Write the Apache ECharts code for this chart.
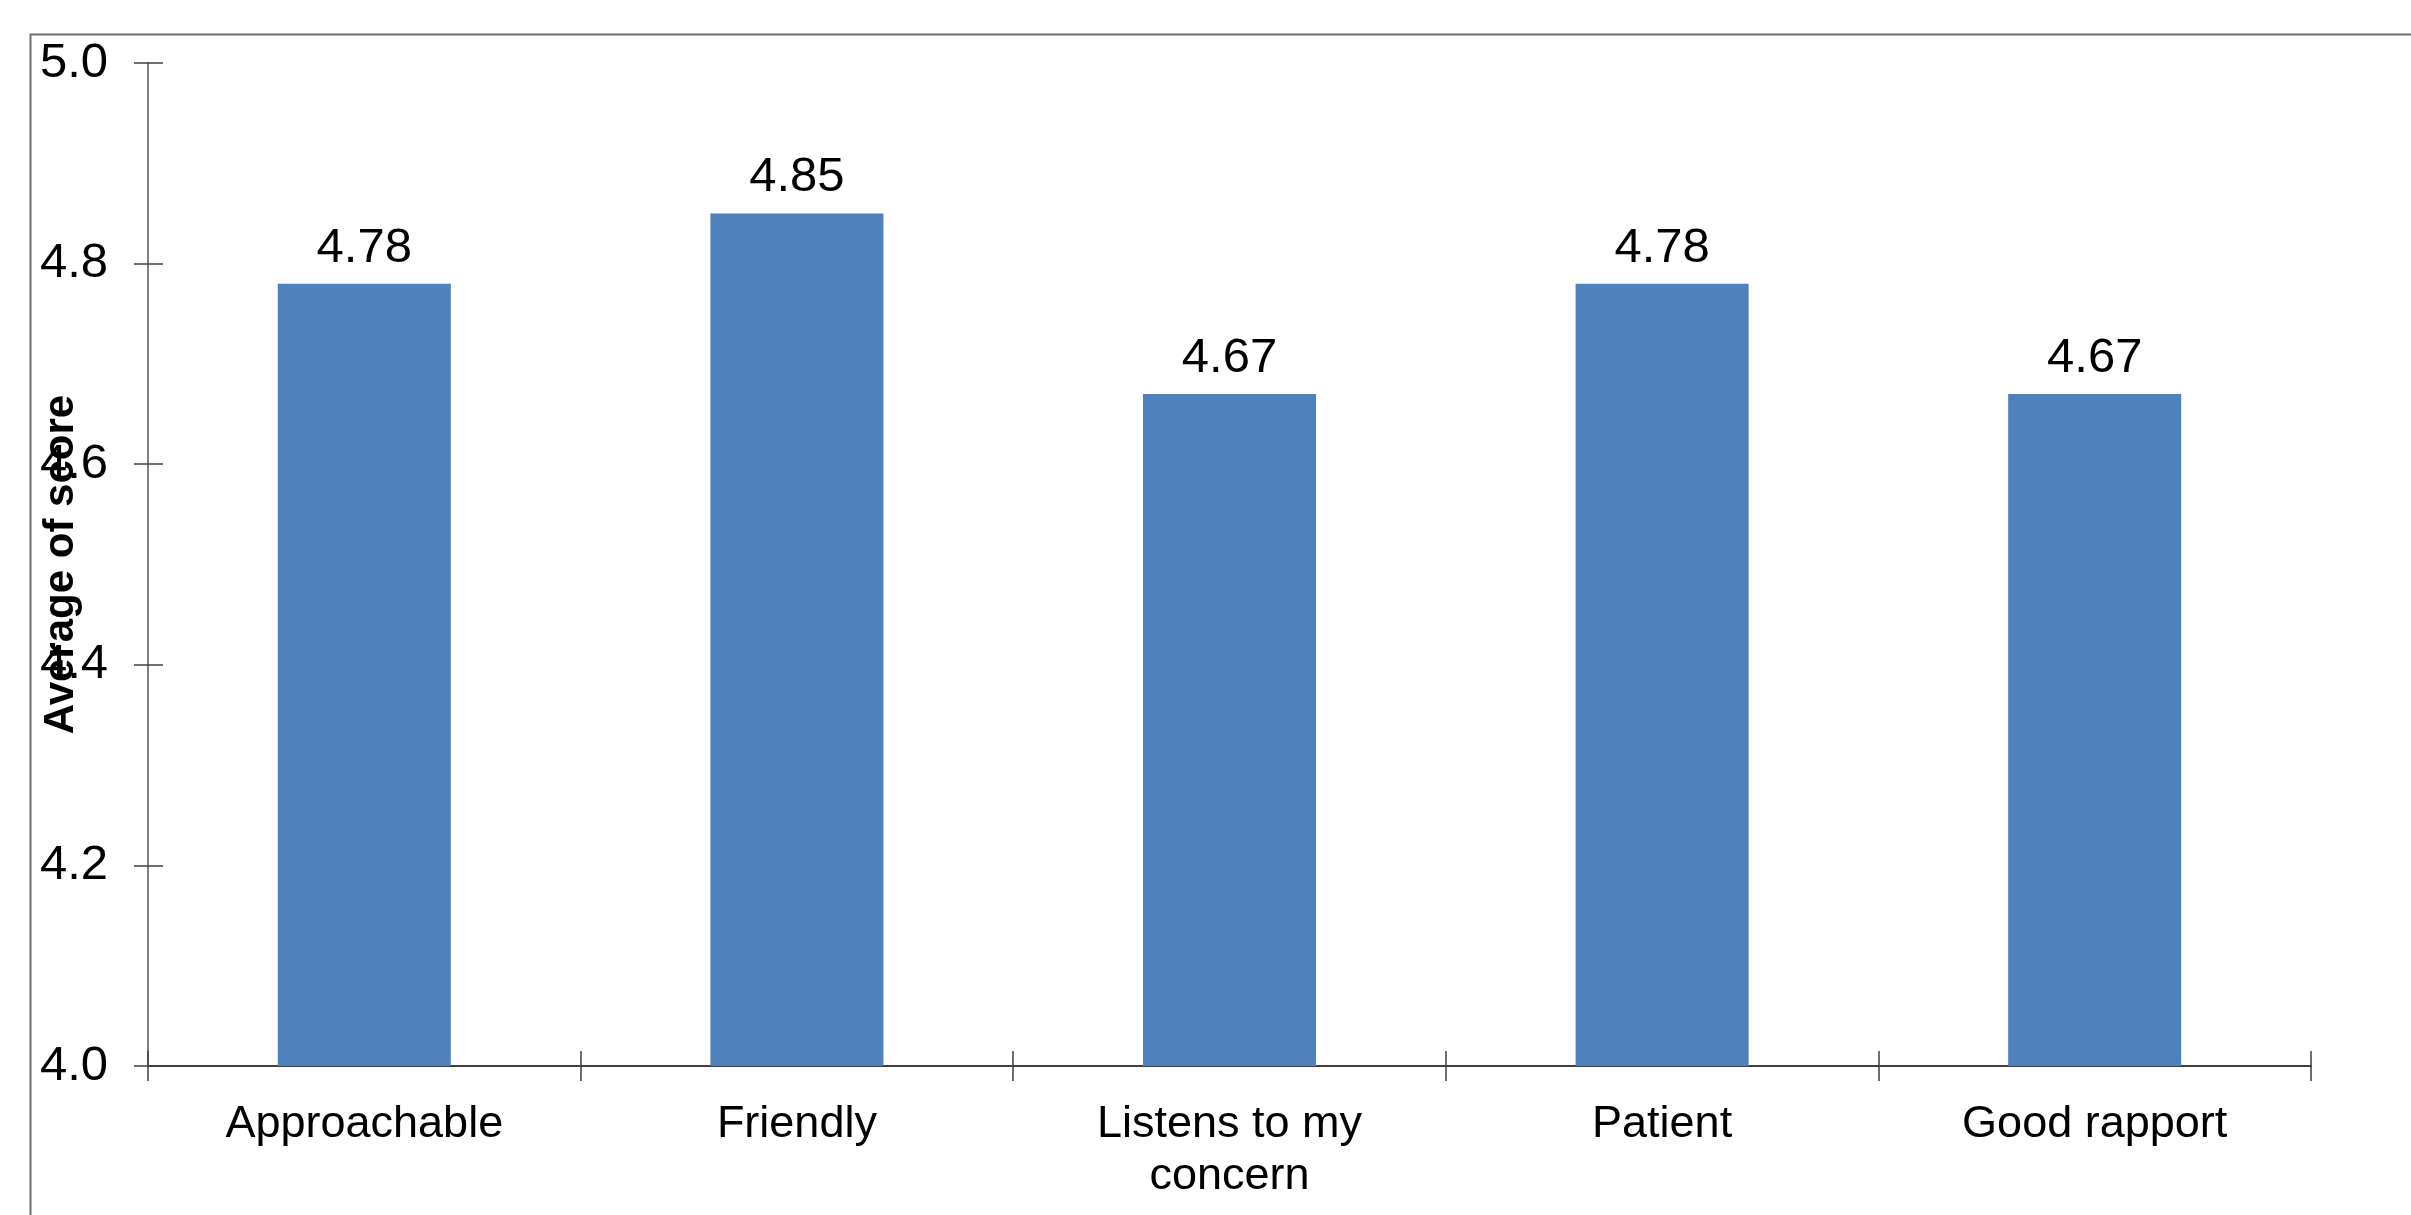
<!DOCTYPE html>
<html>
<head>
<meta charset="utf-8">
<script src="https://cdn.jsdelivr.net/npm/echarts@6/dist/echarts.min.js"></script>
<style>
html,body{margin:0;padding:0;background:#fff;}
#chart{width:2411px;height:1215px;}
</style>
</head>
<body>
<div id="chart"></div>
<script>
const categories = ["Approachable", "Friendly", "Listens to my\nconcern", "Patient", "Good rapport"];
const scores = [4.78, 4.85, 4.67, 4.78, 4.67];
const yTicks = { min: 4.0, max: 5.0, interval: 0.2 };
const yTitle = "Average of score";

const FONT = '"Liberation Sans", Arial, sans-serif';
const chart = echarts.init(document.getElementById('chart'), null, {renderer: 'canvas'});
const grid = {left: 148, right: 100, top: 63, bottom: 149, containLabel: false, outerBoundsMode: 'none'};

chart.setOption({
  backgroundColor: '#ffffff',
  animation: false,
  graphic: [{
    type: 'rect',
    silent: true,
    shape: {x: 30.5, y: 34.5, width: 2600, height: 1400},
    style: {fill: 'none', stroke: '#6e6e6e', lineWidth: 2}
  }],
  grid: grid,
  xAxis: [{
    type: 'category',
    data: categories,
    axisLine: {show: true, lineStyle: {color: '#404040', width: 2}},
    axisTick: {show: true, length: 15, lineStyle: {color: '#404040', width: 1.5}},
    axisLabel: {color: '#000', fontFamily: FONT, fontSize: 45, margin: 33, lineHeight: 52},
    splitLine: {show: false}
  }, {
    type: 'category',
    data: categories,
    position: 'bottom',
    axisLine: {show: false},
    axisTick: {show: true, inside: true, length: 15, lineStyle: {color: '#404040', width: 1.5}},
    axisLabel: {show: false},
    splitLine: {show: false}
  }],
  yAxis: [{
    type: 'value',
    min: yTicks.min, max: yTicks.max, interval: yTicks.interval,
    name: yTitle,
    nameLocation: 'middle',
    nameRotate: 90,
    nameGap: 66,
    nameMoveOverlap: false,
    nameTextStyle: {color: '#000', fontFamily: FONT, fontSize: 42, fontWeight: 'bold'},
    axisLine: {show: true, lineStyle: {color: '#808080', width: 2}},
    axisTick: {show: true, length: 14, lineStyle: {color: '#404040', width: 1.5}},
    axisLabel: {color: '#000', fontFamily: FONT, fontSize: 49, margin: 40,
      formatter: v => v.toFixed(1)},
    splitLine: {show: false}
  }, {
    type: 'value',
    min: yTicks.min, max: yTicks.max, interval: yTicks.interval,
    position: 'left',
    axisLine: {show: false},
    axisTick: {show: true, inside: true, length: 15, lineStyle: {color: '#404040', width: 1.5}},
    axisLabel: {show: false},
    splitLine: {show: false}
  }],
  series: [{
    type: 'bar',
    data: scores,
    barCategoryGap: '60%',
    itemStyle: {color: '#4F81BD'},
    label: {show: true, position: 'top', distance: 11, color: '#000',
      fontFamily: FONT, fontSize: 49, formatter: p => p.value.toFixed(2)}
  }]
});
</script>
</body>
</html>
